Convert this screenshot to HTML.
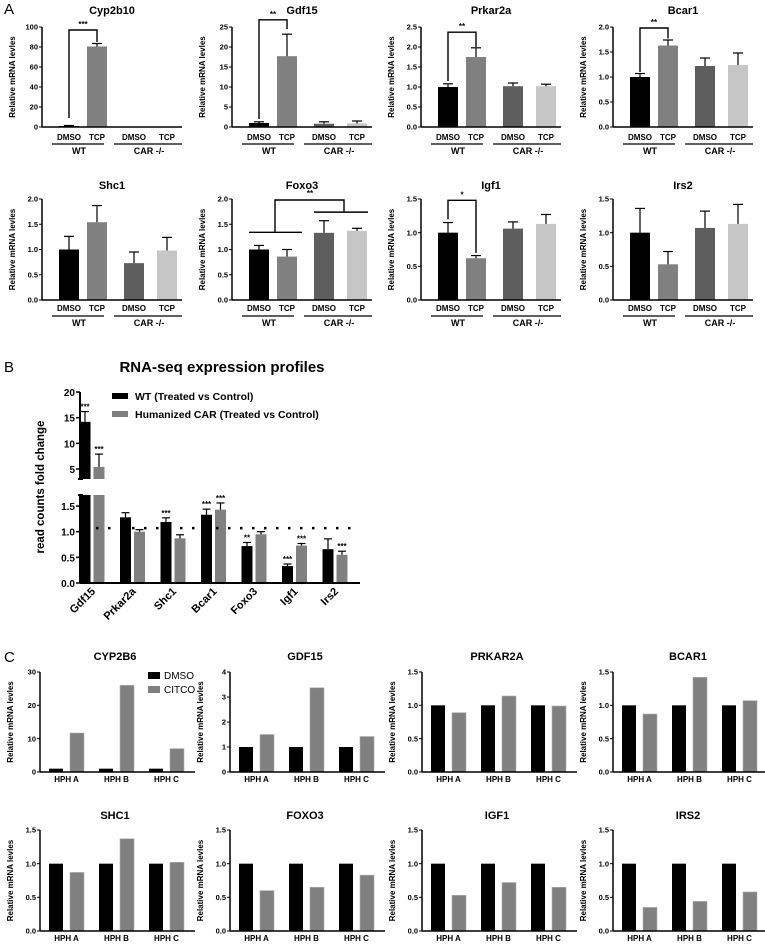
<!DOCTYPE html>
<html><head><meta charset="utf-8"><style>
body{margin:0;background:#fff}
svg{display:block;font-family:"Liberation Sans",Arial,sans-serif}
</style></head><body>
<svg id="fig" width="765" height="944" viewBox="0 0 765 944" xmlns="http://www.w3.org/2000/svg"></svg>
<script>
// ---------- Panel A data ----------
const aGenes = ["Cyp2b10","Gdf15","Prkar2a","Bcar1","Shc1","Foxo3","Igf1","Irs2"];
const aCats = ["DMSO","TCP","DMSO","TCP"];
const aGroups = ["WT","CAR -/-"];
const aMax = [100,25,2.5,2.0,2.0,2.0,1.5,1.5];
const aStep = [20,5,0.5,0.5,0.5,0.5,0.5,0.5];
const aCyp2b10 = [1,80.5,0,0];      const aCyp2b10Err = [0.5,3,0,0];
const aGdf15 = [1,17.7,0.8,0.9];     const aGdf15Err = [0.3,5.5,0.5,0.6];
const aPrkar2a = [1,1.75,1.02,1.02]; const aPrkar2aErr = [0.08,0.23,0.08,0.05];
const aBcar1 = [1,1.63,1.22,1.24];   const aBcar1Err = [0.07,0.11,0.16,0.24];
const aShc1 = [1,1.54,0.73,0.98];    const aShc1Err = [0.26,0.33,0.22,0.26];
const aFoxo3 = [1,0.86,1.33,1.37];   const aFoxo3Err = [0.08,0.14,0.24,0.05];
const aIgf1 = [1,0.62,1.06,1.13];    const aIgf1Err = [0.15,0.04,0.1,0.14];
const aIrs2 = [1,0.53,1.07,1.13];    const aIrs2Err = [0.36,0.19,0.25,0.29];
const aValues = [aCyp2b10,aGdf15,aPrkar2a,aBcar1,aShc1,aFoxo3,aIgf1,aIrs2];
const aErrors = [aCyp2b10Err,aGdf15Err,aPrkar2aErr,aBcar1Err,aShc1Err,aFoxo3Err,aIgf1Err,aIrs2Err];
const aBrackets = [[97,9,85,"***"],[26.8,2,24.5,"**"],[2.37,1.15,2.0,"**"],[1.98,1.1,1.77,"**"],null,null,[1.48,1.2,0.7,"*"],null];
const foxoLines = [1.34,1.74,1.98];

// ---------- Panel B data ----------
const bGenes = ["Gdf15","Prkar2a","Shc1","Bcar1","Foxo3","Igf1","Irs2"];
const bWT = [14.2,1.28,1.19,1.33,0.72,0.33,0.66];
const bWTErr = [2,0.09,0.08,0.11,0.07,0.04,0.2];
const bHCAR = [5.4,1.0,0.87,1.43,0.95,0.73,0.55];
const bHCARErr = [2.5,0.04,0.07,0.13,0.05,0.04,0.07];
const bWTStars = ["***","","***","***","**","***",""];
const bHCARStars = ["***","","","***","","***","***"];
const bLowTicks = [0,0.5,1.0,1.5];
const bHighTicks = [5,10,15,20];
const bRefLine = 1.07;

// ---------- Panel C data ----------
const cGenes = ["CYP2B6","GDF15","PRKAR2A","BCAR1","SHC1","FOXO3","IGF1","IRS2"];
const cDonors = ["HPH A","HPH B","HPH C"];
const cMax = [30,4,1.5,1.5,1.5,1.5,1.5,1.5];
const cStep = [10,1,0.5,0.5,0.5,0.5,0.5,0.5];
const cDMSO = [[1,1,1],[1,1,1],[1,1,1],[1,1,1],[1,1,1],[1,1,1],[1,1,1],[1,1,1]];
const cCITCO = [[11.7,26,7],[1.5,3.37,1.42],[0.89,1.14,0.99],[0.87,1.42,1.07],[0.87,1.37,1.02],[0.6,0.65,0.83],[0.53,0.72,0.65],[0.35,0.44,0.58]];

const NS="http://www.w3.org/2000/svg";
const svg=document.getElementById('fig');
function el(tag,attrs,parent,text){const e=document.createElementNS(NS,tag);for(const k in attrs)e.setAttribute(k,attrs[k]);if(text!==undefined)e.textContent=text;(parent||svg).appendChild(e);return e;}
function fmt(v,step){return step<1?v.toFixed(1):String(v);}

function letter(t,x,y){const e=el('text',{x:x,y:y,'font-size':15},svg,t);

}
letter('A',4,14);letter('B',4,372);letter('C',4,662);

function yAxis(g,ax,y0,ytop,max,step,len){
  el('line',{x1:ax,y1:y0,x2:ax,y2:ytop,stroke:'#000','stroke-width':1.5},g);
  el('line',{x1:ax,y1:y0,x2:ax+len,y2:y0,stroke:'#000','stroke-width':1.5},g);
  for(let v=0;v<=max+1e-9;v+=step){const y=y0-(v/max)*(y0-ytop);
    el('line',{x1:ax-3,y1:y,x2:ax,y2:y,stroke:'#000','stroke-width':1},g);
    const t=el('text',{x:ax-4,y:y+2.7,'font-size':7.5,'font-weight':'bold','text-anchor':'end'},g,fmt(v,step));
    
    }
  const yt=el('text',{x:0,y:0,'font-size':8,'font-weight':'bold','text-anchor':'middle',transform:`translate(${ax-27},${(y0+ytop)/2}) rotate(-90)`},g,'Relative mRNA levles');
  
  
}

// ---------- Panel A ----------
const aCols=['#000','#808080','#5e5e5e','#c6c6c6'];
const aRel=[27,55,92,125];
const aAx=[42,232,421,613];
aGenes.forEach((gname,i)=>{
  const row=Math.floor(i/4),ax=aAx[i%4];
  const y0=row?300:127, ytop=row?199:27, max=aMax[i];
  const g=el('g',{});
  
  
  const ys=v=>y0-(v/max)*(y0-ytop);
  const tt=el('text',{x:ax+70,y:row?189:14,'font-size':11,'font-weight':'bold','text-anchor':'middle'},g,gname);
  
  
  aValues[i].forEach((v,j)=>{
    const cx=ax+aRel[j];
    const r=el('rect',{x:cx-10,y:ys(v),width:20,height:y0-ys(v),fill:aCols[j]},g);
    
    
    const e=aErrors[i][j];
    if(e>0){el('line',{x1:cx,y1:ys(v),x2:cx,y2:ys(v+e),stroke:'#000','stroke-width':1.2},g);
      el('line',{x1:cx-5,y1:ys(v+e),x2:cx+5,y2:ys(v+e),stroke:'#000','stroke-width':1.2},g);}
    const lb=el('text',{x:cx,y:row?311:140,'font-size':8,'font-weight':'bold','text-anchor':'middle'},g,aCats[j]);
    
    
  });
  yAxis(g,ax,y0,ytop,max,aStep[i],140);
  const ly=row?316:144;
  el('line',{x1:ax+10,y1:ly,x2:ax+62,y2:ly,stroke:'#000','stroke-width':1.3},g);
  el('line',{x1:ax+72,y1:ly,x2:ax+140,y2:ly,stroke:'#000','stroke-width':1.3},g);
  aGroups.forEach((gr,k)=>{const t=el('text',{x:ax+(k?107:37),y:ly+10,'font-size':9,'font-weight':'bold','text-anchor':'middle'},g,gr);
    
    });
  const b=aBrackets[i];
  if(b){const x1=ax+aRel[0],x2=ax+aRel[1];
    el('path',{d:`M${x1},${ys(b[1])}V${ys(b[0])}H${x2}V${ys(b[2])}`,fill:'none',stroke:'#000','stroke-width':1.4},g);
    el('text',{x:(x1+x2)/2,y:ys(b[0])-3,'font-size':8,'font-weight':'bold','text-anchor':'middle'},g,b[3]);}
  if(gname==='Foxo3'){
    const l1=ys(foxoLines[0]),l2=ys(foxoLines[1]),l3=ys(foxoLines[2]);
    el('line',{x1:ax+17,y1:l1,x2:ax+70,y2:l1,stroke:'#000','stroke-width':1.4},g);
    el('line',{x1:ax+82,y1:l2,x2:ax+136,y2:l2,stroke:'#000','stroke-width':1.4},g);
    el('path',{d:`M${ax+43},${l1}V${l3}H${ax+112}V${l2}`,fill:'none',stroke:'#000','stroke-width':1.4},g);
    el('text',{x:ax+78,y:l3-4,'font-size':8,'font-weight':'bold','text-anchor':'middle'},g,'**');}
});

// ---------- Panel B ----------
(function(){
  const g=el('g',{});
  
  
  const ax=80,y0=583,ylTop=495,yhBot=479,yhTop=392;
  const yl=v=>y0-v*51.3;
  const yh=v=>469-(v-5)*5.13;
  const tt=el('text',{x:222,y:372,'font-size':15,'font-weight':'bold','text-anchor':'middle'},g,'RNA-seq expression profiles');
  
  
  const xc=i=>92+i*40.5;
  bGenes.forEach((gn,i)=>{
    [[bWT,bWTErr,bWTStars,'#000',-7],[bHCAR,bHCARErr,bHCARStars,'#808080',7]].forEach(([vals,errs,stars,col,off],s)=>{
      const cx=xc(i)+off,v=vals[i],e=errs[i];
      let top,etop;
      if(v>1.7){
        const r1=el('rect',{x:cx-5.5,y:ylTop,width:11,height:y0-ylTop,fill:col},g);
        
        
        top=yh(v);etop=yh(v+e);
        const r2=el('rect',{x:cx-5.5,y:top,width:11,height:yhBot-top,fill:col},g);
        
        
      } else {
        top=yl(v);etop=yl(v+e);
        const r=el('rect',{x:cx-5.5,y:top,width:11,height:y0-top,fill:col},g);
        
        
      }
      el('line',{x1:cx,y1:top,x2:cx,y2:etop,stroke:'#000','stroke-width':1.2},g);
      el('line',{x1:cx-4,y1:etop,x2:cx+4,y2:etop,stroke:'#000','stroke-width':1.2},g);
      if(stars[i])el('text',{x:cx,y:etop-2,'font-size':8,'font-weight':'bold','text-anchor':'middle'},g,stars[i]);
    });
    const lb=el('text',{x:0,y:0,'font-size':11,'font-weight':'bold','text-anchor':'end',transform:`translate(${xc(i)+4},${y0+9}) rotate(-45)`},g,gn);
    
    
  });
  el('line',{x1:ax,y1:y0,x2:ax,y2:ylTop,stroke:'#000','stroke-width':2},g);
  el('line',{x1:ax,y1:yhBot,x2:ax,y2:yhTop,stroke:'#000','stroke-width':2},g);
  el('line',{x1:ax-2,y1:ylTop,x2:ax+3,y2:ylTop,stroke:'#000','stroke-width':2},g);
  el('line',{x1:ax-2,y1:yhBot,x2:ax+3,y2:yhBot,stroke:'#000','stroke-width':2},g);
  el('line',{x1:ax,y1:y0,x2:360,y2:y0,stroke:'#000','stroke-width':2},g);
  bLowTicks.forEach(v=>{el('line',{x1:ax-4,y1:yl(v),x2:ax,y2:yl(v),stroke:'#000','stroke-width':1.5},g);
    const t=el('text',{x:ax-5,y:yl(v)+4,'font-size':10,'font-weight':'bold','text-anchor':'end'},g,v.toFixed(1));
    
    });
  bHighTicks.forEach(v=>{el('line',{x1:ax-4,y1:yh(v),x2:ax,y2:yh(v),stroke:'#000','stroke-width':1.5},g);
    const t=el('text',{x:ax-5,y:yh(v)+4,'font-size':10,'font-weight':'bold','text-anchor':'end'},g,String(v));
    
    });
  const yt=el('text',{x:0,y:0,'font-size':11.5,'font-weight':'bold','text-anchor':'middle',transform:`translate(44,487) rotate(-90)`},g,'read counts fold change');
  
  
  el('line',{x1:84,y1:yl(bRefLine),x2:352,y2:yl(bRefLine),stroke:'#000','stroke-width':2.5,'stroke-dasharray':'2.5 9.5'},g);
  [['#000','WT (Treated vs Control)',393],['#808080','Humanized CAR (Treated vs Control)',411]].forEach(([c,t,y],k)=>{
    const r=el('rect',{x:112,y:y,width:16,height:6,fill:c},g);
    
    
    const tx=el('text',{x:135,y:y+7,'font-size':10.5,'font-weight':'bold'},g,t);
    
    
  });
})();

// ---------- Panel C ----------
const cAx=[40,230,422,613];
cGenes.forEach((gn,i)=>{
  const row=Math.floor(i/4),ax=cAx[i%4];
  const y0=row?931:772,ytop=row?830:672,max=cMax[i];
  const ys=v=>y0-(v/max)*(y0-ytop);
  const g=el('g',{});
  
  
  const tt=el('text',{x:ax+75,y:row?819:660,'font-size':11,'font-weight':'bold','text-anchor':'middle'},g,gn);
  
  
  cDonors.forEach((d,j)=>{
    const bx=ax+16+j*50,gx=ax+37+j*50;
    const r1=el('rect',{x:bx-7,y:ys(cDMSO[i][j]),width:14,height:y0-ys(cDMSO[i][j]),fill:'#000'},g);
    
    
    const r2=el('rect',{x:gx-7,y:ys(cCITCO[i][j]),width:14,height:y0-ys(cCITCO[i][j]),fill:'#808080',stroke:'#b0b0b0','stroke-width':0.6},g);
    
    
    const lb=el('text',{x:(bx+gx)/2,y:y0+10,'font-size':8,'font-weight':'bold','text-anchor':'middle'},g,d);
    
    
  });
  yAxis(g,ax,y0,ytop,max,cStep[i],155);
  if(i===0){
    [['#000','DMSO',672],['#808080','CITCO',686]].forEach(([c,t,y])=>{
      const r=el('rect',{x:148,y:y,width:12,height:7,fill:c},g);
      
      
      const tx=el('text',{x:164,y:y+7,'font-size':10},g,t);
      
      
    });
  }
});
</script>
</body></html>
